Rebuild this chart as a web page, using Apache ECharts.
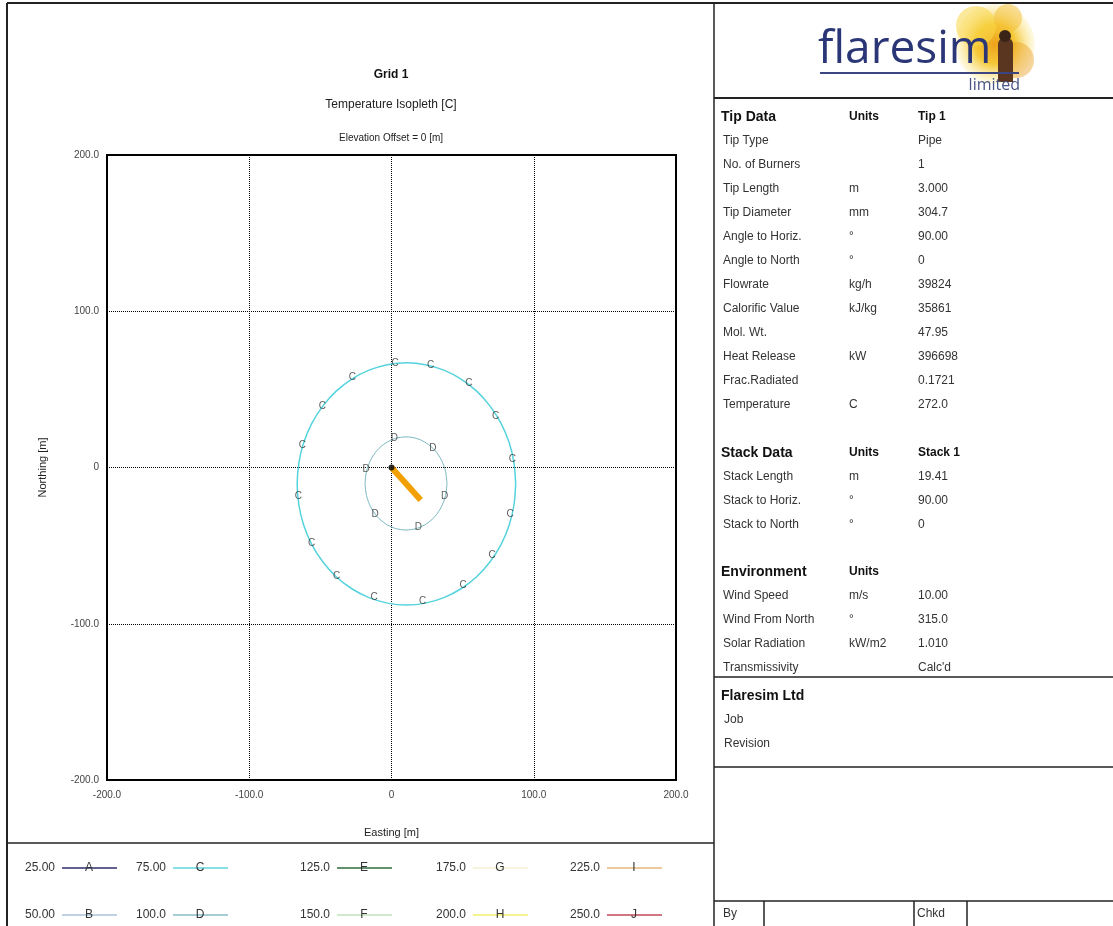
<!DOCTYPE html>
<html>
<head>
<meta charset="utf-8">
<script src="https://cdn.jsdelivr.net/npm/echarts@6/dist/echarts.min.js"></script>
<style>
html,body{margin:0;padding:0;background:#fff;}
#chart{width:1113px;height:926px;}
</style>
</head>
<body>
<div id="chart"></div>
<script>
// ---- Data ----
var xTicks = [-200, -100, 0, 100, 200];
var yTicks = [-200, -100, 0, 100, 200];

// 75 C isopleth (contour "C"), points on the drawn curve in metres
var contourC = [
  [87.3, -10.5], [86.1, 3.0], [82.7, 16.0], [77.0, 28.3], [69.3, 39.3], [59.9, 48.9],
  [48.9, 56.6], [36.8, 62.3], [23.9, 65.8], [10.5, 67.0], [-2.9, 65.8], [-15.8, 62.3],
  [-27.9, 56.6], [-38.9, 48.9], [-48.3, 39.3], [-56.0, 28.3], [-61.7, 16.0], [-65.1, 3.0],
  [-66.3, -10.5], [-65.1, -24.0], [-61.7, -37.0], [-56.0, -49.3], [-48.3, -60.3], [-38.9, -69.9],
  [-27.9, -77.6], [-15.8, -83.3], [-2.9, -86.8], [10.5, -88.0], [23.9, -86.8], [36.8, -83.3],
  [48.9, -77.6], [59.9, -69.9], [69.3, -60.3], [77.0, -49.3], [82.7, -37.0], [86.1, -24.0],
  [87.3, -10.5]
];
var labelsC = [
  [2.5, 67.0], [27.5, 65.6], [54.3, 53.9], [73.2, 33.0], [84.9, 5.4], [83.3, -29.8],
  [70.7, -56.0], [50.3, -75.6], [21.9, -85.9], [-12.3, -83.3], [-38.5, -69.9],
  [-56.1, -48.5], [-65.5, -18.2], [-62.7, 14.4], [-48.6, 39.4], [-27.6, 57.5]
];
// 100 C isopleth (contour "D")
var contourD = [
  [39.0, -10.2], [38.0, -2.5], [35.1, 4.7], [30.6, 10.9], [24.6, 15.6], [17.7, 18.6],
  [10.2, 19.6], [2.7, 18.6], [-4.2, 15.6], [-10.2, 10.9], [-14.7, 4.7], [-17.6, -2.5],
  [-18.6, -10.2], [-17.6, -17.9], [-14.7, -25.1], [-10.2, -31.3], [-4.2, -36.0], [2.7, -39.0],
  [10.2, -40.0], [17.7, -39.0], [24.6, -36.0], [30.6, -31.3], [35.1, -25.1], [38.0, -17.9],
  [39.0, -10.2]
];
var labelsD = [[2.0, 18.7], [29.0, 12.3], [37.4, -18.2], [18.9, -38.3], [-11.6, -30.0], [-17.9, -1.0]];
// flame from stack tip
var flame = [[0, 0], [20.5, -20.8]];
var stackTip = [[0, 0]];

// legend
var legendValues = ['25.00', '50.00', '75.00', '100.0', '125.0', '150.0', '175.0', '200.0', '225.0', '250.0'];
var legendLetters = ['A', 'B', 'C', 'D', 'E', 'F', 'G', 'H', 'I', 'J'];
var legendColors = ['#2e2d6e', '#a9c2dc', '#5fd6de', '#86bccb', '#2f6b3c', '#bfe2b8', '#f3f3d6', '#f2ef6a', '#e9b77a', '#c24a58'];

// table
var tipHeader = ['Tip Data', 'Units', 'Tip 1'];
var tipRows = [
  ['Tip Type', '', 'Pipe'], ['No. of Burners', '', '1'], ['Tip Length', 'm', '3.000'],
  ['Tip Diameter', 'mm', '304.7'], ['Angle to Horiz.', '°', '90.00'], ['Angle to North', '°', '0'],
  ['Flowrate', 'kg/h', '39824'], ['Calorific Value', 'kJ/kg', '35861'], ['Mol. Wt.', '', '47.95'],
  ['Heat Release', 'kW', '396698'], ['Frac.Radiated', '', '0.1721'], ['Temperature', 'C', '272.0']
];
var stackHeader = ['Stack Data', 'Units', 'Stack 1'];
var stackRows = [['Stack Length', 'm', '19.41'], ['Stack to Horiz.', '°', '90.00'], ['Stack to North', '°', '0']];
var envHeader = ['Environment', 'Units', ''];
var envRows = [['Wind Speed', 'm/s', '10.00'], ['Wind From North', '°', '315.0'], ['Solar Radiation', 'kW/m2', '1.010'], ['Transmissivity', '', "Calc'd"]];
var companyHeader = 'Flaresim Ltd';
var companyRows = ['Job', 'Revision'];

// ---- Build ----
var FONT = '"Liberation Sans", Arial, sans-serif';
var chart = echarts.init(document.getElementById('chart'));
var g = [];
function txt(s, x, y, size, opts) {
  opts = opts || {};
  g.push({
    type: 'text', z: 10, silent: true,
    style: {
      text: s, x: x, y: y, fill: opts.fill || '#222',
      font: (opts.weight || 'normal') + ' ' + size + 'px ' + (opts.family || FONT),
      textAlign: opts.align || 'left', textVerticalAlign: 'middle',
      align: opts.align || 'left', verticalAlign: 'middle'
    }
  });
}
function ln(x1, y1, x2, y2, w, c) {
  g.push({ type: 'line', z: 5, silent: true, shape: { x1: x1, y1: y1, x2: x2, y2: y2 }, style: { stroke: c || '#222', lineWidth: w || 1.5 } });
}

// frame lines
ln(7, 3, 1113, 3, 2);
ln(7, 3, 7, 926, 2);
ln(714, 3, 714, 926, 1.5);
ln(7, 843, 714, 843, 1.5);
ln(714, 98, 1113, 98, 2);
ln(714, 677, 1113, 677, 1.5);
ln(714, 767, 1113, 767, 1.5);
ln(714, 901, 1113, 901, 1.5);
ln(764, 901, 764, 926, 1.5);
ln(914, 901, 914, 926, 1.5);
ln(967, 901, 967, 926, 1.5);

// titles
txt('Grid 1', 391, 75, 12, { align: 'center', weight: 'bold', fill: '#111' });
txt('Temperature Isopleth [C]', 391, 105, 12, { align: 'center', fill: '#222' });
txt('Elevation Offset = 0 [m]', 391, 138, 10, { align: 'center', fill: '#222' });

// logo
g.push({ type: 'circle', z: 2, silent: true, shape: { cx: 995, cy: 44, r: 40 },
  style: { fill: { type: 'radial', x: 0.5, y: 0.5, r: 0.5, colorStops: [
    { offset: 0, color: '#eea21c' }, { offset: 0.5, color: '#f5c838' }, { offset: 1, color: 'rgba(250,232,140,0.2)' }] } } });
g.push({ type: 'circle', z: 2, silent: true, shape: { cx: 976, cy: 26, r: 20 },
  style: { fill: 'rgba(248,214,70,0.55)' } });
g.push({ type: 'circle', z: 2, silent: true, shape: { cx: 1016, cy: 60, r: 18 },
  style: { fill: 'rgba(236,160,40,0.45)' } });
g.push({ type: 'circle', z: 2, silent: true, shape: { cx: 1008, cy: 18, r: 14 },
  style: { fill: 'rgba(244,190,50,0.5)' } });
g.push({ type: 'rect', z: 3, silent: true, shape: { x: 998, y: 38, width: 15, height: 44, r: [6, 6, 0, 0] },
  style: { fill: '#5a3520' } });
g.push({ type: 'circle', z: 3, silent: true, shape: { cx: 1005, cy: 36, r: 6 }, style: { fill: '#3a2418' } });
txt('flaresim', 818, 50, 46, { family: '"Open Sans", "Noto Sans", sans-serif', fill: '#2b3677' });
ln(820, 73, 1019, 73, 2, '#3a4582');
txt('limited', 1020, 85, 16, { align: 'right', family: '"Open Sans", "Noto Sans", sans-serif', fill: '#4a5585' });

// table
var cx0 = 721, cx1 = 849, cx2 = 918;
function section(header, rows, y0) {
  txt(header[0], cx0, y0, 14, { weight: 'bold', fill: '#111' });
  txt(header[1], cx1, y0, 12, { weight: 'bold', fill: '#111' });
  if (header[2]) txt(header[2], cx2, y0, 12, { weight: 'bold', fill: '#111' });
  rows.forEach(function (r, i) {
    var y = y0 + 24 * (i + 1);
    txt(r[0], cx0 + 2, y, 12, { fill: '#333' });
    if (r[1]) txt(r[1], cx1, y, 12, { fill: '#333' });
    if (r[2]) txt(r[2], cx2, y, 12, { fill: '#333' });
  });
}
section(tipHeader, tipRows, 117);
section(stackHeader, stackRows, 453);
section(envHeader, envRows, 572);
txt(companyHeader, cx0, 696, 14, { weight: 'bold', fill: '#111' });
companyRows.forEach(function (s, i) { txt(s, cx0 + 3, 720 + 24 * i, 12, { fill: '#333' }); });
txt('By', 723, 914, 12, { fill: '#333' });
txt('Chkd', 917, 914, 12, { fill: '#333' });

// legend
var legX = [25, 136, 300, 436, 570];
var legY = [868, 915];
legendValues.forEach(function (v, i) {
  var col = Math.floor(i / 2), row = i % 2;
  var x = legX[col], y = legY[row];
  txt(v, x, y, 12, { fill: '#333' });
  ln(x + 37, y, x + 92, y, 1.5, legendColors[i]);
  txt(legendLetters[i], x + 64, y, 12, { align: 'center', fill: '#333' });
});

function labelScatter(pts, letter) {
  return {
    type: 'scatter', data: pts, symbolSize: 1, z: 4,
    itemStyle: { color: 'rgba(0,0,0,0)' },
    label: { show: true, position: 'inside', formatter: letter, fontSize: 10, color: '#333', fontFamily: FONT },
    silent: true
  };
}

var option = {
  backgroundColor: '#fff',
  animation: false,
  grid: { left: 107, top: 155, width: 569, height: 625, show: true, borderColor: '#000', borderWidth: 2, backgroundColor: 'transparent' },
  xAxis: {
    type: 'value', min: -200, max: 200, interval: 100,
    name: 'Easting [m]', nameLocation: 'middle', nameGap: 47,
    nameTextStyle: { fontSize: 11, color: '#222', fontFamily: FONT },
    axisLine: { show: false }, axisTick: { show: false },
    axisLabel: { fontSize: 10, color: '#444', fontFamily: FONT, margin: 10,
      formatter: function (v) { return xTicks.indexOf(v) < 0 ? '' : (v === 0 ? '0' : v.toFixed(1)); } },
    splitLine: { show: true, lineStyle: { color: '#000', type: 'dotted', width: 1 } }
  },
  yAxis: {
    type: 'value', min: -200, max: 200, interval: 100,
    name: 'Northing [m]', nameLocation: 'middle', nameGap: 59, nameRotate: 90,
    nameTextStyle: { fontSize: 11, color: '#222', fontFamily: FONT },
    axisLine: { show: false }, axisTick: { show: false },
    axisLabel: { fontSize: 10, color: '#444', fontFamily: FONT, margin: 8,
      formatter: function (v) { return yTicks.indexOf(v) < 0 ? '' : (v === 0 ? '0' : v.toFixed(1)); } },
    splitLine: { show: true, lineStyle: { color: '#000', type: 'dotted', width: 1 } }
  },
  graphic: g,
  series: [
    { type: 'line', name: '75.00', data: contourC, smooth: 0.3, showSymbol: false, silent: true, z: 3,
      lineStyle: { color: '#55d3dc', width: 1.5 } },
    { type: 'line', name: '100.0', data: contourD, smooth: 0.3, showSymbol: false, silent: true, z: 3,
      lineStyle: { color: '#7bb8c2', width: 1 } },
    labelScatter(labelsC, 'C'),
    labelScatter(labelsD, 'D'),
    { type: 'line', name: 'flame', data: flame, showSymbol: false, silent: true, z: 5,
      lineStyle: { color: '#f2a000', width: 6, cap: 'butt' } },
    { type: 'scatter', name: 'stack', data: stackTip, symbolSize: 6, z: 6, silent: true,
      itemStyle: { color: '#000' } }
  ]
};
chart.setOption(option);
</script>
</body>
</html>
